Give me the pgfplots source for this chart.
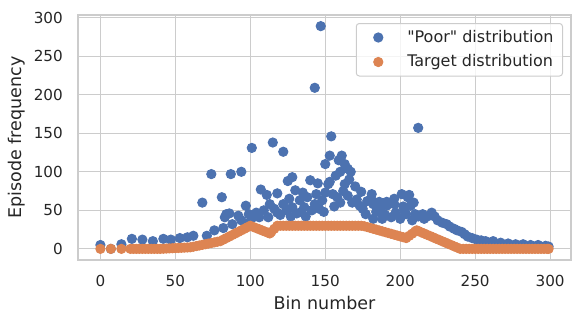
\documentclass[border=0pt]{standalone}
\usepackage{fontspec}
\setmainfont{DejaVu Sans}[Ligatures=TeXOff]
\usepackage{pgfplots}
\pgfplotsset{compat=1.18}
\definecolor{sbblue}{HTML}{4C72B0}
\definecolor{sborange}{HTML}{DD8452}
\definecolor{sbgrid}{HTML}{CCCCCC}
\definecolor{sbtext}{HTML}{262626}

\begin{document}
\begin{tikzpicture}
\useasboundingbox (-78bp,-63bp) rectangle (504bp,260bp);
\begin{axis}[
    at={(0,0)}, anchor=south west,
    scale only axis, width=493bp, height=245bp,
    xmin=-14.95, xmax=313.95, ymin=-14.45, ymax=303.45,
    xtick={0,50,...,300}, ytick={0,50,...,300},
    grid=major, major grid style={sbgrid, line width=1.1bp},
    axis line style={sbgrid, line width=1.4bp},
    major tick length=0pt,
    tick label style={font=\fontsize{15.2bp}{18bp}\selectfont, text=sbtext, inner sep=0pt},
    xticklabel style={anchor=north, yshift=-15bp},
    yticklabel style={anchor=east, xshift=-15bp},
    /pgf/number format/assume math mode=true,
    xlabel={Bin number}, ylabel={Episode frequency},
    label style={font=\fontsize{17.5bp}{21bp}\selectfont, text=sbtext, inner sep=0pt},
    xlabel style={at={(axis description cs:0.5,-0.2)}, anchor=base},
    ylabel style={at={(axis description cs:-0.1136,0.5)}, anchor=base},
    legend cell align=left,
    legend style={at={(0.9838,0.9673)}, anchor=north east, draw=sbgrid, line width=1bp,
        rounded corners=3bp, fill=white, fill opacity=0.8, text opacity=1,
        inner xsep=9bp, inner ysep=7.15bp, column sep=16bp, row sep=10.8bp,
        nodes={inner sep=0pt, text height=11.7bp, text depth=2bp},
        font=\fontsize{16bp}{19bp}\selectfont, text=sbtext},
    legend image code/.code={\path[draw=none, fill=none] (0bp,0bp) -- (26bp,0bp);
        \draw[#1, fill opacity=1, draw opacity=1] plot coordinates {(13bp,0bp)};},
]
% "Poor" distribution
\addplot[only marks, mark=*, mark size=4.6bp,
    mark options={draw=sbblue, fill=sbblue, line width=1bp}] coordinates {
(0,5) (7,0) (14,6) (21,13) (28,12) (35,10) (42,13) (47,12) (53,14) (58,15)
(62,17) (68,60) (71,17) (74,97) (76,24) (81,67) (82,27) (83,41) (84,45) (86,46)
(87,97) (88,32) (92,43) (94,100) (94,37) (97,56) (99,45) (99,34) (101,131) (102,41)
(104,47) (106,41) (107,77) (109,50) (111,70) (112,41) (113,58) (115,138) (118,72) (118,47)
(122,58) (122,126) (124,50) (125,88) (126,65) (128,93) (128,54) (130,76) (131,46) (133,63)
(135,73) (136,54) (138,67) (140,89) (143,209) (143,58) (144,71) (145,85) (147,289) (148,63)
(150,73) (150,110) (152,84) (153,121) (153,87) (154,146) (155,71) (158,67) (159,115) (161,121)
(163,110) (163,84) (165,104) (165,69) (168,60) (170,81) (174,74) (175,52) (177,45) (181,71)
(181,63) (182,58) (182,39) (186,52) (186,61) (187,47) (188,39) (191,56) (191,61) (194,41)
(196,58) (196,65) (200,39) (201,71) (204,45) (205,67) (206,70) (207,56) (208,37) (209,60)
(210,45) (212,157) (215,45) (216,39) (221,47) (225,37) (228,34) (231,32) (233,29) (236,26)
(238,24) (241,22) (243,19) (245,16) (248,14) (251,12) (254,11) (257,10) (262,10) (267,8)
(272,7) (277,6) (282,6) (287,5) (292,5) (297,4) (299,3)
(116,52) (120,44) (127,42) (134,48) (137,42) (141,50) (146,52) (149,48) (156,55) (160,60)
(162,75) (166,90) (157,95) (160,100) (167,100) (171,64) (173,56) (178,62) (184,48) (190,44)
(197,47) (202,55) (203,48) (212,42) (218,42) (223,42)
};
\addlegendentry{"Poor" distribution}
% Target distribution
\addplot[only marks, mark=*, mark size=4.6bp,
    mark options={draw=sborange, fill=sborange, line width=1bp}] coordinates {
(0,0) (7,0) (14,0) (20,0) (22,0) (24,0) (26,0) (28,0) (30,0) (32,0) (34,0) (36,0) (38,0) (40,0)
(42,0.2) (44,0.4) (46,0.6) (48,0.8) (50,1) (52,1.2) (54,1.4) (56,1.6) (58,1.8) (60,2)
(62,2.8) (64,3.6) (66,4.4) (68,5.2) (70,6) (72,6.8) (74,7.6) (76,8.4) (78,9.2) (80,10)
(82,12) (84,14) (86,16) (88,18) (90,20) (92,22) (94,24) (96,26) (98,28) (100,30)
(102,28.5) (104,26.9) (106,25.4) (108,23.8) (110,22.3) (112,20.8) (113,20)
(114,22) (116,26) (118,30) (120,30) (122,30) (124,30) (126,30) (128,30) (130,30)
(132,30) (134,30) (136,30) (138,30) (140,30) (142,30) (144,30) (146,30) (148,30) (150,30)
(152,30) (154,30) (156,30) (158,30) (160,30) (162,30) (164,30) (166,30) (168,30) (170,30)
(172,30) (174,30) (176,29.4) (178,28.3) (180,27.2) (182,26.1) (184,25) (186,23.9) (188,22.8)
(190,21.7) (192,20.6) (194,19.5) (196,18.4) (198,17.3) (200,16.2) (202,15.1) (204,14)
(206,16.9) (208,19.7) (210,22.6) (211,24) (212,23.2) (214,21.5) (216,19.9) (218,18.2)
(220,16.6) (222,14.9) (224,13.2) (226,11.6) (228,9.9) (230,8.3) (232,6.6) (234,5) (236,3.3)
(238,1.7) (240,0) (242,0) (244,0) (246,0) (248,0) (250,0) (252,0) (254,0) (256,0) (258,0)
(260,0) (262,0) (264,0) (266,0) (268,0) (270,0) (272,0) (274,0) (276,0) (278,0) (280,0)
(282,0) (284,0) (286,0) (288,0) (290,0) (292,0) (294,0) (296,0) (298,0) (299,0)
};
\addlegendentry{Target distribution}
\end{axis}
\end{tikzpicture}
\end{document}
